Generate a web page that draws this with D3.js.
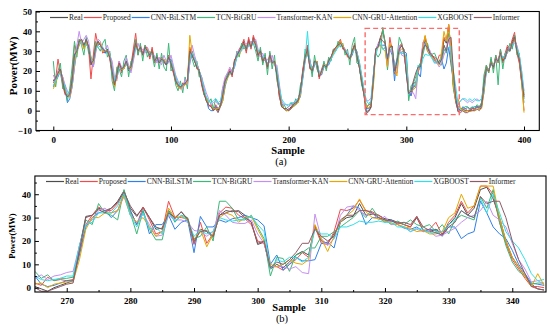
<!DOCTYPE html>
<html><head><meta charset="utf-8">
<script src="https://cdn.jsdelivr.net/npm/d3@7"></script>
<style>body{margin:0;background:#fff;} svg{display:block;}</style>
</head><body><svg id="c" width="550" height="332"></svg>
<script>
const seriesNames = ["Real","Proposed","CNN-BiLSTM","TCN-BiGRU","Transformer-KAN","CNN-GRU-Attention","XGBOOST","Informer"];
const seriesColors = ["#4d4d4d","#f24b4b","#2f80ea","#3cb878","#c490f0","#e6a700","#2fe0e6","#8f5a66"];

// Panel (a): samples 0..400 (every 2nd sample)
const fullSamples = d3.range(0, 401, 2);
const fullReal = [15,17,19,21,14,9,7,9,16,28, 31,35,35,32,36,32,23,26,33,35, 33,31,29,31,27,19,13,19,24,20, 22,25,20,22,29,35,30,32,28,32, 30,27,31,25,27,24,26,25,23,27, 24,20,15,12,12,13,14,15,31,28, 25,22,20,14,9,5,3,2,1,2, 0,3,8,15,17,20,18,25,28,30, 32,35,30,36,32,37,33,28,30,25, 27,22,28,24,25,18,8,2,1,1, 0,2,3,4,5,10,20,27,32,22, 20,25,24,17,20,23,22,25,27,30, 32,33,35,32,30,28,26,30,33,28, 22,15,8,-0.5,0,2,17,31,33,37, 40,34.5,25,33,32.5,19,24,31,32.5,31, 18.5,8,8.5,14,14,20,23,30,36,31.5, 29.5,28,26,24.5,25,27,36,34,43,30, 13,5,-0.5,0,1,0,0,0,1,1, 2,1,3,15,22,20,25,22,27,25, 30,25,28,32,30,35,38,30,25,15, 8];
const fullProposed = [14,16,26,19,13,8,8,10,18,33, 30,36,34,33,34,31,16,28,39,33, 34,29,30,30,26,18,12,20,25,19, 23,24,21,23,31,39,28,33,29,33, 31,26,32,24,28,25,27,24,24,28, 23,19,14,13,11,14,13,16,32,27, 26,21,21,13,8,6,2,3,0,3, 1,2,9,16,18,21,17,26,27,31, 33,36,29,37,31,38,34,27,31,24, 28,21,29,25,24,19,7,3,1,0, 1,1,4,3,6,9,21,28,33,21, 21,24,25,16,21,24,21,26,26,31, 31,34,36,31,31,27,27,29,34,27, 23,14,9,1,3,3,15,31,33,36, 41,34.5,23,37,30,18.5,19,32,34,29.5, 20,9,7.5,12,13,19,24,33,37.5,32.5, 29,28,26,24.5,28,28,37,35,43.5,28, 12,4,0.5,0,0.5,1,0,0.5,1,0.5, 2,1.5,4,14,23,19,26,21,28,24, 31,24,29,33,31,36,39.5,29,24,14, 0];
const fullBiLSTM = [12,15,17,20,17,11,4,6,12,22, 30,33,36,33,34,33,26,22,30,34, 33,32,29,30,29,22,15,16,22,22, 21,24,22,20,26,33,31,30,29,30, 31,28,29,27,25,25,25,26,23,25, 26,21,17,13,12,12,14,14,24,30, 26,24,20,17,11,6,1,0,0,2, 1,2,5,12,17,19,19,22,27,29, 31,33,32,33,33,35,35,29,29,27, 25,24,25,25,24,21,12,4,1,0, 0.5,1,2,3,5,7,16,25,30,26, 19,23,25,19,18,22,23,23,26,29, 31,32,34,33,30,29,26,28,32,30, 24,17,10,1,1,3,14,30,33,33, 33,33,27,31,28,15,26,29,29.5,30, 29,10,7.5,13,11.5,19,17,31,34,30, 28,27,25,24,24.5,26,21,24,32,23, 16,6,1.5,0,2,1,1.5,1,1.5,2, 2,2,2.5,9,20,21,23,23,25,26, 28,27,26,30,31,32,36,32,27,18, 6];
const fullTCN = [25,12,20,24,11,13,5,11,22,35, 27,36,33,28,37,29,27,24,35,32, 30,34,36,27,30,15,10,22,21,17, 25,28,17,25,26,36,28,34,25,33, 27,30,28,22,29,21,29,22,20,34, 20,22,13,10,15,9,17,11,30,26, 22,25,17,17,8,7,4,6,1,6, 4,2,12,13,19,18,21,23,30,27, 34,31,33,33,35,34,30,25,32,23, 29,18,30,21,28,15,11,2,3,1, 2,4,2,6,4,13,17,31,28,25, 17,28,21,18,19,25,20,27,25,31, 30,35,32,34,28,31,23,33,37,24, 23,13,9,2,3,4,18,29,27,29, 42,33,20.5,33,31,21,26,37,34,29, 26,5,12.5,14,17,22,24,28,33,34, 29,28.5,29,26,24,23,31,29,39,28, 11,5,2,1,1,2,2,1,2,1, 3,2,4,18,23,19,27,19,28,13, 31,21,29,29,34,31,38,28,29,14, 4];
const fullKAN = [18,15,20,20,17,13,10,7,12,22, 33,40,34,36,38,35,27,22,29,36, 35,30,31,33,28,25,17,15,25,22, 21,27,23,19,25,31,34,30,31,29, 32,29,28,28,24,27,23,28,25,24, 28,23,18,15,11,11,16,13,24,33, 28,24,20,17,13,9,6,3,4,5, 3,4,12,17,19,22,19,22,29,31, 30,34,34,32,35,34,36,31,27,29, 25,26,24,28,23,23,14,5,3,3, 2,3,4,5,6,8,17,26,31,25, 21,24,24,19,19,23,23,24,27,29, 31,32,34,33,31,29,27,29,31,29, 25,18,10,5,5,6.5,18,29,34,33, 31,31.5,22,31,29,24.5,22,33,28,27.5, 23,9,9,9,6,21,21,34.5,33,32, 30.5,27,24,24,22,24,28,31,37,29, 19,8,3,5,6,5,4,5,4,5, 6,5,6,12,20,21,23,23,25,26, 28,27,27,30,32,33,35,33,28,20, 10];
const fullGRUAtt = [11,14,18,20,16,10,8,7,13,24, 30,33,36,31,34,32,27,24,31,34, 34,30,30,30,28,21,12,17,23,21, 21,24,22,21,27,34,31,30,28,31, 31,28,30,26,26,25,25,26,24,26, 25,21,16,12,11,12,13,14,38,29, 26,23,20,15,10,6,3,2,1,1, 1,2,5,13,16,19,19,24,27,28, 31,34,31,34,33,36,34,29,29,26, 26,23,27,24,25,20,10,3,1,0, 0,1,2,3,4,8,18,26,31,24, 20,24,25,18,19,23,23,25,26,29, 32,32,35,33,30,28,26,29,32,29, 24,16,9,2,1.5,2.5,12,30,32,33, 31,30,22,34,30.5,20,17.5,30,31,30, 25,10,10,10.5,12,21,22,31,38,30, 28.5,27,25.5,24.5,23,30,40,35,43.5,30, 13,5,6,1,0,-0.5,0,-0.5,0,0, 0.5,1,1,10,21,20,24,23,26,25, 29,26,27,31,30,34,36,31,26,16, -1];
const fullXGB = [13,15,18,19,15,12,8,9,14,26, 31,34,35,33,33,32,26,25,31,33, 32,31,30,29,28,21,15,18,22,21, 22,24,21,22,27,32,30,31,28,31, 30,28,29,26,26,25,25,25,24,26, 25,21,17,13,13,13,14,15,27,29, 26,23,20,16,11,7,5,4,5,6, 4,5,9,14,17,19,19,23,27,29, 31,33,31,33,32,34,33,30,29,27, 26,24,26,25,24,21,12,6,4,3, 3,4,4,5,6,9,17,26,40,24, 21,24,24,19,20,22,23,24,26,28, 30,32,33,32,30,29,27,29,31,29, 25,18,11,5,3.5,5,18,28,32,35, 31,32,26,32,31,22,23,30,28.5,29.5, 27,8,11,13,13,23,21,26,28.5,28, 28,26,24,25,23.5,27,33,30,32,32, 20,12,3,5,6,6,5,6,5,6, 5,5,6,12,20,21,23,23,26,25, 29,27,28,31,30,33,34,32,28,20, 9];
const fullInformer = [15,16,19,21,15,9,7,8,15,28, 30,35,36,33,36,32,24,25,32,35, 33,31,30,30,27,20,13,18,24,21, 22,25,21,22,28,34,30,32,28,32, 30,28,30,25,27,24,26,25,23,27, 24,20,15,13,12,13,14,15,30,28, 25,22,20,14,9,5,3,2,0,1, -1,2,8,15,17,20,18,25,28,30, 32,34,31,35,32,36,33,28,30,25, 27,22,28,24,25,18,9,2,1,1, 0,1,3,4,5,10,19,27,31,22, 20,25,24,17,20,23,22,25,27,30, 32,33,34,32,30,28,26,30,33,28, 22,15,8,-1.5,-0.5,1.5,16,31,32,36.5, 35,34,26,32,32.5,20,24.5,31,33,30, 19,8.5,10,15,19,22,22,31,33,32, 29,27.5,27,26,23.5,26,33,30,36,37, 20,6,-0.5,-1,0,-1,-1,0,0,0, 1,0,2,13,21,20,24,22,26,25, 29,25,27,31,30,34,37,30,26,16, 7];

// Panel (b): samples 265..345
const zoomSamples = d3.range(265, 346);
const zoomReal = [0.5,-0.5,-1.5,0,1,2,3,17,30.5,31, 34,33,34,37,41.5,34,30.5,34.5,30,25, 25.5,33,29.5,32.5,29,19,25,24,21.5,31, 33,32.5,33,31,28,18.5,19.5,8,10,8.5, 11,14,15.5,14,26.5,20,19,23,28,30, 30.5,36,31,31.5,31,29.5,29,28,27,26, 30,24.5,24,25,23,27,30,36,31,34, 42,43,38,30,20,13,9,5,1.5,-0.5, -1];
const zoomProposed = [2,1,4.5,3,3.5,3,3.5,15,27,31, 34.5,33,33,36,41,33,27,34.5,29,23, 24,37,30,30,29.5,18.5,28,19,23,32, 34.5,34,31,29.5,27,20,19,9,9,7.5, 10,12,15,13,26,19,18.5,24,33.5,33, 34,37.5,33,32.5,31,29,28.5,28,27,26, 30.5,24.5,25,28,22.5,28,31,37,32,35, 43.5,43.5,40,28,19,12,8,4,0.5,0.5, 0];
const zoomBiLSTM = [5,1.5,0.5,1,2,3,3,14,26,30, 32,33,30,33,40,33,27,33,23,27, 27,31,25,28,29,15,30.5,26,26,29, 28,29.5,30,31,30,29,26.5,10,14,7.5, 10,13,11.5,11.5,12,19,19.5,17,28,31, 35,34,27,30,30,28,29,27,25.5,25, 26,24,25,24.5,22,26,26,21,23,24, 37,32,26,23,21,16,10,6,2,1.5, 1];
const zoomTCN = [7,4,5.5,3,4,4,4.5,18,29,27, 36,32,31,29,42,32,23,33,25,20.5, 20.5,33,28,31,30,21,22,26,20,37, 37,34,29,29,31,26,21,5,13,12.5, 7,14,15,17,17,22,22,24,26,28, 30,33,30,34,30,29,27,28.5,27,29, 27,26,27,24,27,23,29,31,30,29, 39,34,42,28,18,11,7,5,1.5,2, 2];
const zoomKAN = [4,5.5,3.5,5,5.5,6.5,7,18,27,29, 33,34,32,33,39,31,28,31.5,27,22, 22.5,31,29,29,28,24.5,24,22,24,33, 31,28,27.5,27.5,29,23,19,9,9,9, 8,9,6.5,6,31.5,21,18,21,31,34.5, 35,33,31,32,29,30.5,27,27,26,24, 25,24,24,22,22.5,24,25.5,28,30,31, 33,37,31,29,26,19,12,8,2.5,3, 1.5];
const zoomGRUAtt = [1.5,2,0,1.5,2,2.5,2.5,12,25,30, 30,32,32,33,39.5,31,28,30,26,22, 24,34,30,30.5,29,20,25,17.5,23,30, 32,31,28,30,30.5,25,20,10,9,10, 12,10.5,10,12,27,21,15.5,22,28,31, 33,38,32.5,30,29.5,28.5,27.5,27,26,25.5, 24,24.5,23,23,24,30,32,40,34,35, 43.5,43.5,43.5,30,20,13,9,5,0.5,6, 1];
const zoomXGB = [5,3.5,3,3.5,4,5,5,18,27,28, 32,32,32,35,40.5,31,26,32,25,26, 23,32,28.5,31,28.5,22,24.5,23,24,30, 29,28.5,29,29.5,30.5,27,24,8,12,11, 13,13,11,13,25,23,23,21,26,26, 27,28.5,28,28,28.5,28,28,26,26,24, 25.5,25,23.5,23.5,24,27,29,33,31,30, 38,32,40,32,24,20,17,12,6,3, 3.5];
const zoomInformer = [0,-1.5,-1.5,-0.5,0.5,1.5,2,16,30,31, 33.5,32,34,36.5,41,35,31,34,30,26, 25,32,30,32.5,29.5,20,24,24.5,22,31, 32,33,32.5,30,28,19,20,8.5,11,10, 12,15,19,19,25,22,20,22,29,31, 31,33,33,32,30,29,28.5,27.5,28,27, 30.5,26,24.5,23.5,22.5,26,28,33,31,30, 39,36,37,37,30,20,12,6,0.5,-0.5, -1];

// Tick values
const aXTicks = [0,100,200,300,400], aXMinor = [50,150,250,350];
const aYTicks = [-10,0,10,20,30,40,50], aYMinor = [-5,5,15,25,35,45];
const bXTicks = [270,280,290,300,310,320,330,340], bXMinor = [275,285,295,305,315,325,335];
const bYTicks = [0,10,20,30,40], bYMinor = [5,15,25,35,45];
const zoomBox = {x0:265, x1:345, y0:-2, y1:41.5};

const FONT = "'Liberation Serif','Times New Roman',Times,serif";
const svg = d3.select("#c");

function panel(o){
  const g = svg.append("g");
  const x = d3.scaleLinear().domain(o.xDomain).range([o.left, o.right]);
  const y = d3.scaleLinear().domain(o.yDomain).range([o.bottom, o.top]);
  const cid = "clip" + o.id;
  svg.append("clipPath").attr("id", cid).append("rect")
    .attr("x", o.left).attr("y", o.top).attr("width", o.right - o.left).attr("height", o.bottom - o.top);
  const lg = g.append("g").attr("clip-path", `url(#${cid})`);
  o.series.forEach((s, k) => {
    const line = d3.line().x((d, i) => x(o.xs[i])).y(d => y(d));
    lg.append("path").datum(s).attr("d", line).attr("fill", "none")
      .attr("stroke", seriesColors[k]).attr("stroke-width", o.lw).attr("stroke-linejoin", "round");
  });
  if (o.box) {
    g.append("rect").attr("x", x(o.box.x0)).attr("y", y(o.box.y1))
      .attr("width", x(o.box.x1) - x(o.box.x0)).attr("height", y(o.box.y0) - y(o.box.y1))
      .attr("fill", "none").attr("stroke", "#ff6b6b").attr("stroke-width", 1.4).attr("stroke-dasharray", "5,3");
  }
  const styleAx = sel => {
    sel.select(".domain").remove();
    sel.selectAll("line").attr("stroke", "#000");
    sel.selectAll("text").attr("font-family", FONT).attr("font-weight", "bold")
      .attr("font-size", o.tickFs).attr("fill", "#000");
  };
  g.append("g").attr("transform", `translate(0,${o.bottom})`)
    .call(d3.axisBottom(x).tickValues(o.xTicks).tickSizeInner(-4).tickSizeOuter(0).tickPadding(o.xPad).tickFormat(d3.format("d"))).call(styleAx);
  g.append("g").attr("transform", `translate(0,${o.bottom})`)
    .call(d3.axisBottom(x).tickValues(o.xMinor).tickSizeInner(-2).tickSizeOuter(0).tickFormat("")).call(styleAx);
  g.append("g").attr("transform", `translate(${o.left},0)`)
    .call(d3.axisLeft(y).tickValues(o.yTicks).tickSizeInner(-4).tickSizeOuter(0).tickPadding(4).tickFormat(d3.format("d"))).call(styleAx);
  g.append("g").attr("transform", `translate(${o.left},0)`)
    .call(d3.axisLeft(y).tickValues(o.yMinor).tickSizeInner(-2).tickSizeOuter(0).tickFormat("")).call(styleAx);
  g.append("rect").attr("x", o.left).attr("y", o.top).attr("width", o.right - o.left).attr("height", o.bottom - o.top)
    .attr("fill", "none").attr("stroke", "#000").attr("stroke-width", 1.1);
  let lx = o.legX;
  seriesNames.forEach((n, k) => {
    g.append("line").attr("x1", lx).attr("x2", lx + 18).attr("y1", o.legY).attr("y2", o.legY)
      .attr("stroke", seriesColors[k]).attr("stroke-width", 1.2);
    const t = g.append("text").attr("x", lx + 19).attr("y", o.legY).attr("dy", "0.33em")
      .attr("font-family", FONT).attr("font-size", 7.5).attr("fill", "#222").text(n);
    lx += 19 + t.node().getComputedTextLength() + 1;
  });
  g.append("text").attr("transform", `translate(${o.ylabX},${o.ylabY}) rotate(-90)`).attr("text-anchor", "middle")
    .attr("dy", "0.35em").attr("font-family", FONT).attr("font-weight", "bold").attr("font-size", o.ylabFs).text("Power(MW)");
  g.append("text").attr("x", o.xlabX).attr("y", o.xlabY).attr("text-anchor", "middle")
    .attr("font-family", FONT).attr("font-weight", "bold").attr("font-size", 10.5).text("Sample");
  g.append("text").attr("x", o.capX).attr("y", o.capY).attr("text-anchor", "middle")
    .attr("font-family", FONT).attr("font-size", 10.5).text(o.cap);
}

panel({id:"a", left:36, right:539.3, top:11.5, bottom:130.5, xDomain:[-14.7,413], yDomain:[-10,50],
  xs:fullSamples, series:[fullReal,fullProposed,fullBiLSTM,fullTCN,fullKAN,fullGRUAtt,fullXGB,fullInformer],
  lw:1, box:zoomBox, xTicks:aXTicks, xMinor:aXMinor, yTicks:aYTicks, yMinor:aYMinor, tickFs:9, xPad:6,
  legX:50, legY:17.5, ylabX:13, ylabY:66, ylabFs:11, xlabX:288, xlabY:154, capX:281, capY:165, cap:"(a)"});

panel({id:"b", left:34.9, right:546, top:176, bottom:292, xDomain:[265,345.3], yDomain:[-1.84,47.8],
  xs:zoomSamples, series:[zoomReal,zoomProposed,zoomBiLSTM,zoomTCN,zoomKAN,zoomGRUAtt,zoomXGB,zoomInformer],
  lw:1, box:null, xTicks:bXTicks, xMinor:bXMinor, yTicks:bYTicks, yMinor:bYMinor, tickFs:9, xPad:6,
  legX:46, legY:181.5, ylabX:12, ylabY:236, ylabFs:8.5, xlabX:289, xlabY:311, capX:282, capY:322, cap:"(b)"});
</script>
</body></html>
